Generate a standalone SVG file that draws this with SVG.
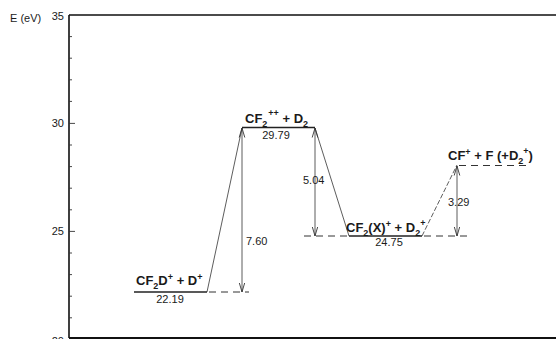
<svg xmlns="http://www.w3.org/2000/svg" width="556" height="339" viewBox="0 0 556 339">
<style>
text{font-family:"Liberation Sans",Arial,sans-serif;fill:#1a1a1a}
.ax{font-size:11px}
.lbl{font-size:13px;font-weight:bold}
.s{font-size:9px}
.num{font-size:11px}
.lvl{stroke:#222;stroke-width:1.3;fill:none}
.dash{stroke:#333;stroke-width:1;stroke-dasharray:7 5;fill:none}
.sl{stroke:#333;stroke-width:0.8;fill:none}
.sld{stroke:#333;stroke-width:0.8;stroke-dasharray:5 2;fill:none}
.arr{stroke:#333;stroke-width:0.8;fill:none;marker-end:url(#ah);marker-start:url(#ah)}
.axis{stroke:#111;fill:none}
.tick{stroke:#333;stroke-width:0.9}
</style>
<defs>
<marker id="ah" viewBox="0 -4 10 8" refX="9.5" refY="0" markerWidth="10" markerHeight="8" markerUnits="userSpaceOnUse" orient="auto-start-reverse">
<path d="M0,-2.8 L9.5,0 L0,2.8" fill="none" stroke="#333" stroke-width="0.9"/>
</marker>
</defs>
<rect width="556" height="339" fill="#fff"/>
<g id="axes">
<path class="axis" stroke-width="1.6" d="M69,15 H556 M69,15 V338"/>
<path class="axis" stroke-width="2" d="M69,338 H556"/>
<path class="tick" d="M69,123.4 H75 M69,231.4 H75 M69,36.6 H72 M69,58.2 H72 M69,79.8 H72 M69,101.4 H72 M69,145 H72 M69,166.6 H72 M69,188.2 H72 M69,209.8 H72 M69,253 H72 M69,274.6 H72 M69,296.2 H72 M69,317.8 H72"/>
<text class="ax" x="10" y="22">E (eV)</text>
<text class="ax" x="64" y="20" text-anchor="end">35</text>
<text class="ax" x="64" y="127" text-anchor="end">30</text>
<text class="ax" x="64" y="235" text-anchor="end">25</text>
<text class="ax" x="64" y="345" text-anchor="end">20</text>
</g>
<g id="connectors">
<path class="sl" d="M207,292 L242,128"/>
<path class="sl" d="M315,128 L349,236"/>
<path class="sld" d="M422,236 L457,165"/>
<path class="arr" d="M242,128 V292"/>
<path class="arr" d="M315,128 V236"/>
<path class="arr" d="M457,166 V236"/>
<text class="num" x="246" y="245">7.60</text>
<text class="num" x="303" y="184">5.04</text>
<text class="num" x="448" y="206">3.29</text>
</g>
<g id="n1">
<path class="lvl" d="M134,292 H207"/>
<path class="dash" d="M209,292 H249"/>
<text class="lbl" x="136" y="285">CF<tspan class="s" dy="4">2</tspan><tspan dy="-4">D</tspan><tspan class="s" dy="-5">+</tspan><tspan dy="5"> + D</tspan><tspan class="s" dy="-5">+</tspan></text>
<text class="num" x="170" y="303" text-anchor="middle">22.19</text>
</g>
<g id="n2">
<path class="lvl" d="M242,127.5 H315"/>
<text class="lbl" x="245" y="123">CF<tspan class="s" dy="4">2</tspan><tspan class="s" dx="1" dy="-11">++</tspan><tspan dy="7"> + D</tspan><tspan class="s" dy="4">2</tspan></text>
<text class="num" x="276" y="139" text-anchor="middle">29.79</text>
</g>
<g id="n3">
<path class="dash" d="M304,236 H349"/>
<path class="lvl" d="M349,236 H422"/>
<path class="dash" d="M424,236 H471"/>
<text class="lbl" x="346" y="232">CF<tspan class="s" dy="4">2</tspan><tspan dy="-4">(X)</tspan><tspan class="s" dy="-5">+</tspan><tspan dy="5"> + D</tspan><tspan class="s" dy="4">2</tspan><tspan class="s" dy="-10">+</tspan></text>
<text class="num" x="389" y="246" text-anchor="middle">24.75</text>
</g>
<g id="n4">
<path class="dash" d="M459,165.5 H531"/>
<text class="lbl" x="448" y="160">CF<tspan class="s" dy="-5">+</tspan><tspan dy="5"> + F (+D</tspan><tspan class="s" dy="4">2</tspan><tspan class="s" dy="-10">+</tspan><tspan dy="6">)</tspan></text>
</g>
</svg>
